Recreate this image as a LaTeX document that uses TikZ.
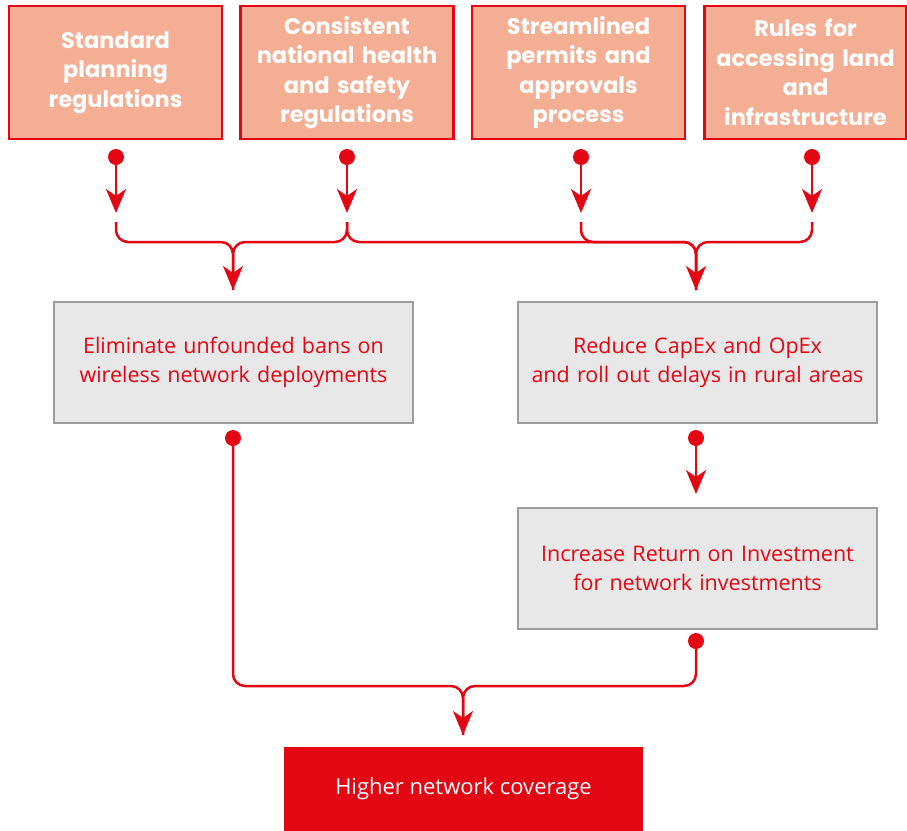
\documentclass[tikz,border=0pt]{standalone}
\usepackage{fontspec}
\setmainfont{Open Sans}
\newfontfamily\headfont{Poppins}
\usetikzlibrary{positioning,arrows.meta}
\definecolor{brandred}{HTML}{E30613}
\definecolor{salmon}{HTML}{F4AE94}
\definecolor{boxgrey}{HTML}{E8E8E8}
\definecolor{edgegrey}{HTML}{9D9D9D}
\tikzset{
 tb/.style
  = {rectangle, draw=brandred, fill=salmon, line width=2.5pt, minimum width=213pt,
     minimum height=133pt, text width=205pt, align=center, text=white, inner sep=0pt,
     font=\headfont\bfseries\fontsize{22.5}{29.5}\selectfont},
 gb/.style
  = {rectangle, draw=edgegrey, fill=boxgrey, line width=2pt, minimum width=359pt,
     minimum height=121pt, text width=345pt, align=center, text=brandred, inner sep=0pt,
     font=\fontsize{21.5}{29}\selectfont},
 rb/.style
  = {rectangle, fill=brandred, minimum width=359pt, minimum height=84pt, text=white,
     font=\fontsize{22}{29}\selectfont},
 dt/.style
  = {circle, fill=brandred, minimum size=16pt, inner sep=0pt},
 ar/.style
  = {draw=brandred, line width=2.5pt, -{Stealth[length=24pt,width=20pt,inset=7pt]}},
 ln/.style
  = {draw=brandred, line width=2.5pt, rounded corners=12pt},
}

\begin{document}
\begin{tikzpicture}[x=1pt,y=-1pt]
    \useasboundingbox (0,0) rectangle (907,830);
    % causes
    \node [tb] (std) at (115.5,72.5) {Standard\\ planning\\ regulations};
    \node [tb, right = 16pt of std] (nat) {Consistent\\ national health\\ and safety\\ regulations};
    \node [tb, right = 16pt of nat] (perm) {Streamlined\\ permits and\\ approvals\\ process};
    \node [tb, right = 17pt of perm, minimum width=202pt, text width=196pt] (land) {Rules for\\ accessing land\\ and\\ infrastructure};

    % effects
    \node [gb] (elim) at (233.5,362.5) {Eliminate unfounded bans on\\ wireless network deployments};
    \node [gb, right = 103pt of elim] (cost) {Reduce CapEx and OpEx\\ and roll out delays in rural areas};
    \node [gb, below = 83pt of cost] (roi) {Increase Return on Investment\\ for network investments};
    \node [rb] (cov) at (463.5,789) {Higher network coverage};

    % dots
    \node [dt] (d1) at (116,157) {};
    \node [dt] (d2) at (347,157) {};
    \node [dt] (d3) at (581,157) {};
    \node [dt] (d4) at (812,157) {};
    \node [dt] (d5) at (233,438) {};
    \node [dt] (d6) at (696,438) {};
    \node [dt] (d7) at (696,641) {};

    \coordinate (t1) at (116,213);
    \coordinate (t2) at (347,213);
    \coordinate (t3) at (581,213);
    \coordinate (t4) at (812,213);
    \coordinate (s1) at (116,222);
    \coordinate (s2) at (347,222);
    \coordinate (s3) at (581,222);
    \coordinate (s4) at (812,222);
    \coordinate (m1) at (233,290);
    \coordinate (m2) at (696,290);
    \coordinate (m3) at (696,494);
    \coordinate (m4) at (463,735);

    \path [ar] (d1) -- (t1);
    \path [ar] (d2) -- (t2);
    \path [ar] (d3) -- (t3);
    \path [ar] (d4) -- (t4);

    % brackets
    \path [ln] (s1) |- (233,242) -- (m1);
    \path [ln, -{Stealth[length=24pt,width=20pt,inset=7pt]}] (s2) |- (233,242) -- (m1);
    \path [ln] (s2) |- (696,242) -- (m2);
    \path [ln] (s3) |- (696,242) -- (m2);
    \path [ln, -{Stealth[length=24pt,width=20pt,inset=7pt]}] (s4) |- (696,242) -- (m2);

    \path [ar] (d6) -- (m3);
    \path [ln] (d5) |- (463,686) -- (m4);
    \path [ln, -{Stealth[length=24pt,width=20pt,inset=7pt]}] (d7) |- (463,686) -- (m4);
\end{tikzpicture}
\end{document}
